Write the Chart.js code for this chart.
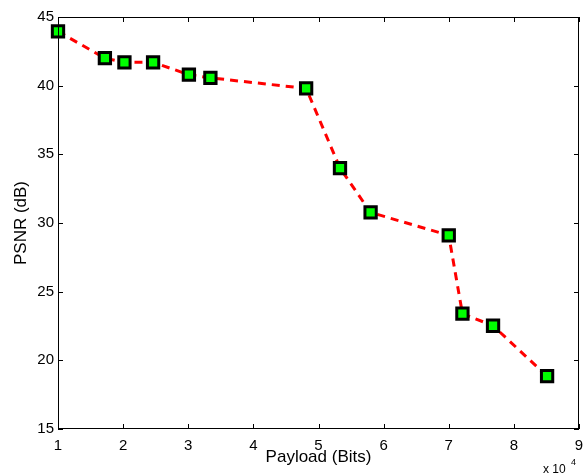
<!DOCTYPE html>
<html>
<head>
<meta charset="utf-8">
<script src="https://cdn.jsdelivr.net/npm/chart.js@4/dist/chart.umd.min.js"></script>
<style>
  html, body { margin: 0; padding: 0; background: #fff; overflow: hidden; }
  #wrap { width: 584px; height: 474px; }
  canvas { display: block; }
</style>
</head>
<body>
<div id="wrap"><canvas id="chart" width="584" height="474"></canvas></div>
<script>
// data
const payloadBits = [10000, 17200, 20200, 24600, 30100, 33400, 48100, 53300, 58000, 70000, 72100, 76800, 85100];
const psnrDb = [43.95, 42.0, 41.7, 41.7, 40.8, 40.57, 39.8, 34.0, 30.77, 29.1, 23.4, 22.52, 18.85];
const xTicks = [1, 2, 3, 4, 5, 6, 7, 8, 9];
const yTicks = [15, 20, 25, 30, 35, 40, 45];

const fontFamily = '"Liberation Sans", Arial, sans-serif';
const ctx = document.getElementById('chart').getContext('2d');

// matlab style box with inward ticks + the x10^4 exponent label
const boxPlugin = {
  id: 'box',
  afterDraw(chart) {
    const { ctx, chartArea: a, scales } = chart;
    ctx.save();
    ctx.strokeStyle = '#000';
    ctx.lineWidth = 1;
    ctx.strokeRect(a.left + 0.5, a.top + 0.5, a.right - a.left - 1, a.bottom - a.top - 1);
    ctx.beginPath();
    for (const t of xTicks) {
      const px = Math.round(scales.x.getPixelForValue(t * 10000)) + 0.5;
      ctx.moveTo(px, a.bottom); ctx.lineTo(px, a.bottom - 5);
      ctx.moveTo(px, a.top); ctx.lineTo(px, a.top + 5);
    }
    for (const t of yTicks) {
      const py = Math.round(scales.y.getPixelForValue(t)) + 0.5;
      ctx.moveTo(a.left, py); ctx.lineTo(a.left + 5, py);
      ctx.moveTo(a.right, py); ctx.lineTo(a.right - 5, py);
    }
    ctx.stroke();
    ctx.fillStyle = '#000';
    ctx.font = '12px ' + fontFamily;
    ctx.textBaseline = 'alphabetic';
    ctx.fillText('x 10', 543, 473);
    ctx.font = '9px ' + fontFamily;
    ctx.fillText('4', 571, 465);
    ctx.restore();
  }
};

new Chart(ctx, {
  type: 'scatter',
  data: {
    datasets: [{
      data: payloadBits.map((x, i) => ({ x: x, y: psnrDb[i] })),
      showLine: true,
      borderColor: '#ff0000',
      borderWidth: 3,
      borderDash: [8, 6],
      pointStyle: 'rect',
      pointRadius: 8,
      pointHoverRadius: 8,
      pointBackgroundColor: '#00ff00',
      pointBorderColor: '#000000',
      pointBorderWidth: 3,
      clip: false
    }]
  },
  options: {
    responsive: false,
    animation: false,
    events: [],
    layout: { autoPadding: false, padding: { top: 17, right: 5, left: 0, bottom: 0 } },
    plugins: { legend: { display: false }, tooltip: { enabled: false } },
    scales: {
      x: {
        type: 'linear',
        min: 10000,
        max: 90000,
        afterBuildTicks: s => { s.ticks = xTicks.map(v => ({ value: v * 10000 })); },
        afterFit: s => { s.height = 45; s.paddingRight = 0; s.paddingLeft = 0; },
        grid: { display: false, drawTicks: false },
        border: { display: false },
        ticks: {
          color: '#000',
          padding: 8,
          maxRotation: 0,
          font: { family: fontFamily, size: 15 },
          callback: v => String(v / 10000)
        },
        title: {
          display: true,
          text: 'Payload (Bits)',
          color: '#000',
          padding: { top: 0, bottom: 6 },
          font: { family: fontFamily, size: 17 }
        }
      },
      y: {
        type: 'linear',
        min: 15,
        max: 45,
        afterBuildTicks: s => { s.ticks = yTicks.map(v => ({ value: v })); },
        afterFit: s => { s.width = 58; s.paddingTop = 0; s.paddingBottom = 0; },
        grid: { display: false, drawTicks: false },
        border: { display: false },
        ticks: {
          color: '#000',
          padding: 4,
          font: { family: fontFamily, size: 15 }
        },
        title: {
          display: true,
          text: 'PSNR (dB)',
          color: '#000',
          padding: { top: 11, bottom: 0 },
          font: { family: fontFamily, size: 17 }
        }
      }
    }
  },
  plugins: [boxPlugin]
});
</script>
</body>
</html>
